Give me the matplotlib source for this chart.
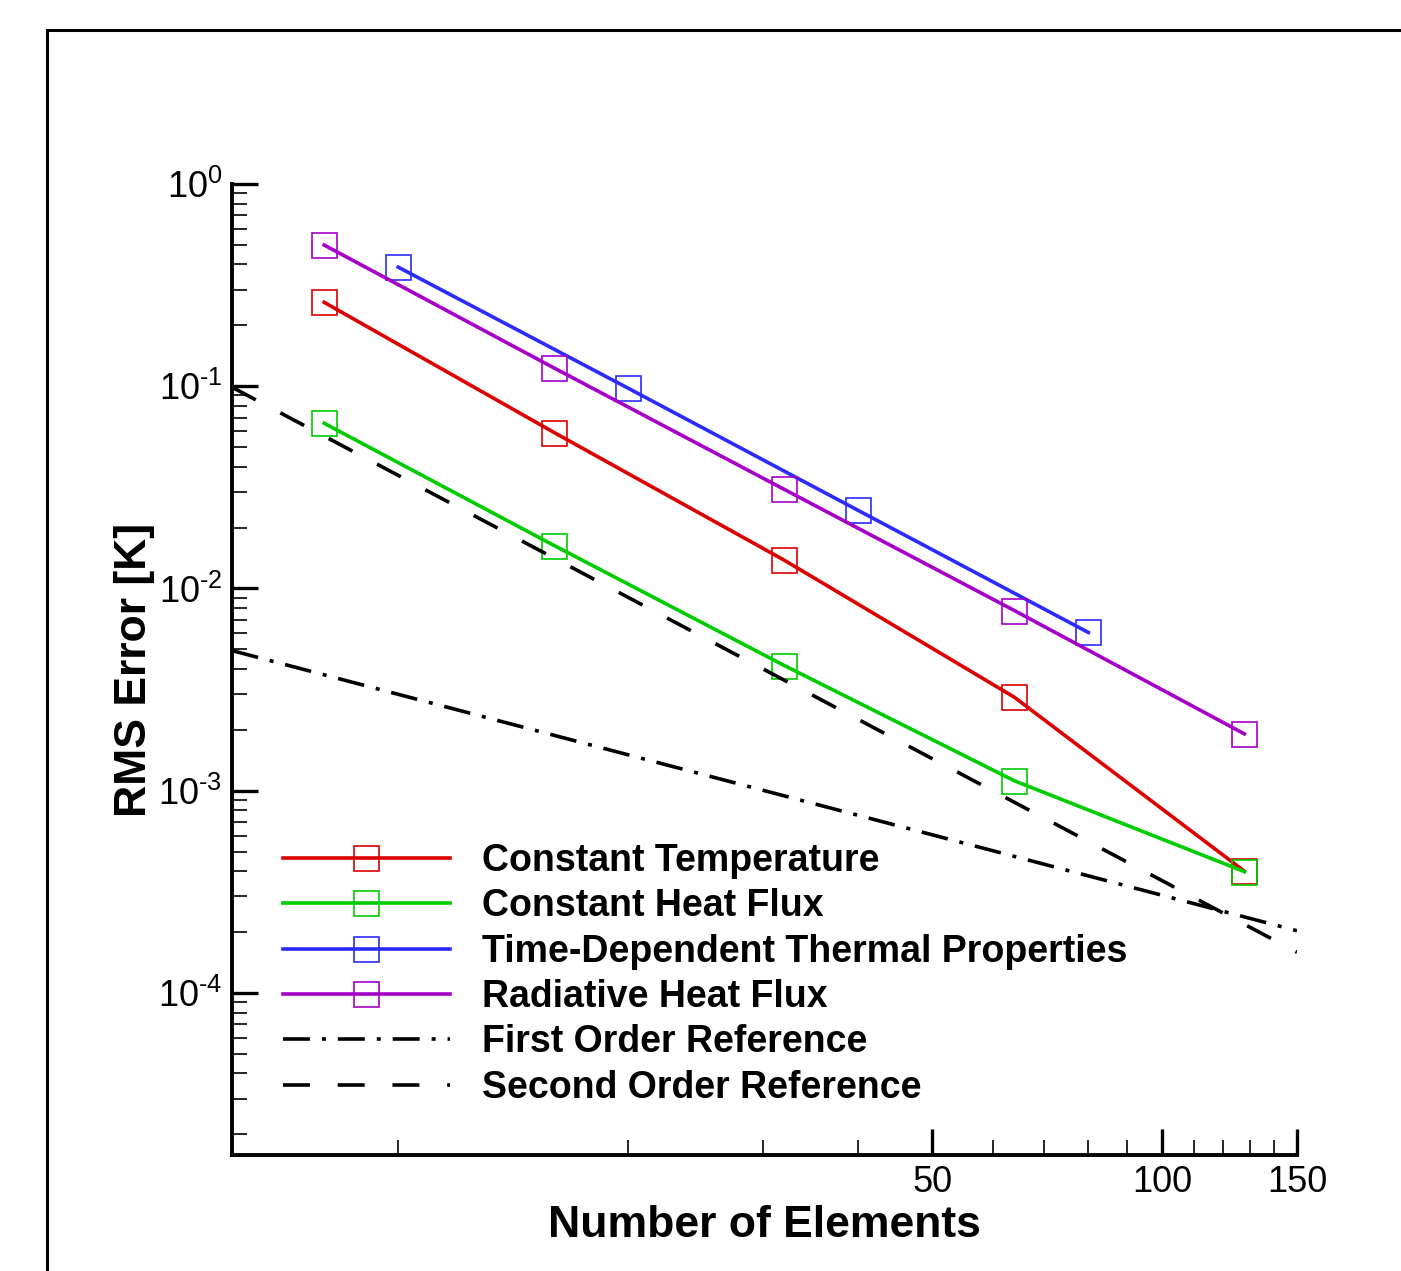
import numpy as np
import matplotlib
matplotlib.use("Agg")
import matplotlib.pyplot as plt
from matplotlib.patches import Rectangle
from matplotlib.ticker import FixedLocator, NullFormatter, LogLocator, FuncFormatter

plt.rcParams['font.family'] = ['Liberation Sans', 'DejaVu Sans']
plt.rcParams['mathtext.fontset'] = 'custom'
plt.rcParams['mathtext.rm'] = 'Liberation Sans'
plt.rcParams['axes.unicode_minus'] = False
plt.rcParams['lines.scale_dashes'] = False

# data
n_a = [8, 16, 32, 64, 128]
n_b = [10, 20, 40, 80]
const_temp = [0.26, 0.059, 0.0138, 0.0029, 0.0004]
const_flux = [0.0656, 0.0163, 0.00416, 0.00112, 0.000398]
time_dep = [0.388, 0.0977, 0.0243, 0.00606]
radiative = [0.499, 0.123, 0.0309, 0.00778, 0.00191]

# reference slopes, end points read at the axis edges
ref_n = [6.06, 150]
first_order = [0.00493, 0.000203]
second_order = [0.0989, 0.000159]

labels = ["Constant Temperature", "Constant Heat Flux",
          "Time-Dependent Thermal Properties", "Radiative Heat Flux",
          "First Order Reference", "Second Order Reference"]
colors = ['#dd0000', '#00cc00', '#2b2bff', '#a600c8']


def pow10(v, pos):
    e = int(round(np.log10(v)))
    if e < 0:
        return r'$\mathdefault{10^{\text{-}%d}}$' % (-e)
    return r'$\mathdefault{10^{%d}}$' % e


fig = plt.figure(figsize=(14.01, 12.71), dpi=100)
fig.patches.append(Rectangle((47 / 1401, -0.2), 1.2, 1 - 30 / 1271 + 0.2,
                             transform=fig.transFigure, fill=False,
                             lw=2.2, ec='black', zorder=0))
ax = fig.add_axes([232 / 1401, 1 - 1155 / 1271, 1065 / 1401, 971 / 1271])

series = [(n_a, const_temp), (n_a, const_flux), (n_b, time_dep), (n_a, radiative)]
for (xs, ys), c, lab in zip(series, colors, labels):
    ax.plot(xs, ys, color=c, lw=2.6, marker='s', ms=18, mfc='none',
            mec=c, mew=1.2, label=lab)

ax.plot(ref_n, first_order, color='black', lw=2.6,
        dashes=(19.4, 8.6, 2.9, 8.6), label=labels[4])
ax.plot(ref_n, second_order, color='black', lw=2.6,
        dashes=(19.4, 20), label=labels[5])

ax.set_xscale('log')
ax.set_yscale('log')
ax.set_xlim(6.06, 150)
ax.set_ylim(1.58e-5, 1.0)

ax.xaxis.set_major_locator(FixedLocator([50, 100, 150]))
ax.set_xticklabels(['50', '100', '150'])
ax.xaxis.set_minor_locator(FixedLocator([10, 20, 30, 40, 60, 70, 80, 90,
                                         110, 120, 130, 140]))
ax.xaxis.set_minor_formatter(NullFormatter())
ax.yaxis.set_major_locator(LogLocator(base=10, numticks=20))
ax.yaxis.set_major_formatter(FuncFormatter(pow10))
ax.yaxis.set_minor_locator(LogLocator(base=10, subs=np.arange(2, 10), numticks=20))
ax.yaxis.set_minor_formatter(NullFormatter())

for s in ['top', 'right']:
    ax.spines[s].set_visible(False)
for s in ['left', 'bottom']:
    ax.spines[s].set_linewidth(2.8)

ax.tick_params(which='major', direction='in', length=19, width=2.4,
               labelsize=26, pad=7)
ax.tick_params(which='minor', direction='in', length=11, width=1.2)

ax.set_xlabel("Number of Elements", fontsize=32, fontweight='bold', labelpad=4)
ax.set_ylabel("RMS Error [K]", fontsize=32, fontweight='bold', labelpad=2)

ax.legend(loc='upper left', bbox_to_anchor=(51 / 1065, (1155 - 843) / 971),
          frameon=False, handlelength=4.45, handletextpad=0.85,
          labelspacing=0.25, borderpad=0, borderaxespad=0, numpoints=1,
          prop={'weight': 'bold', 'size': 27})

fig.savefig("out.png", dpi=100)
